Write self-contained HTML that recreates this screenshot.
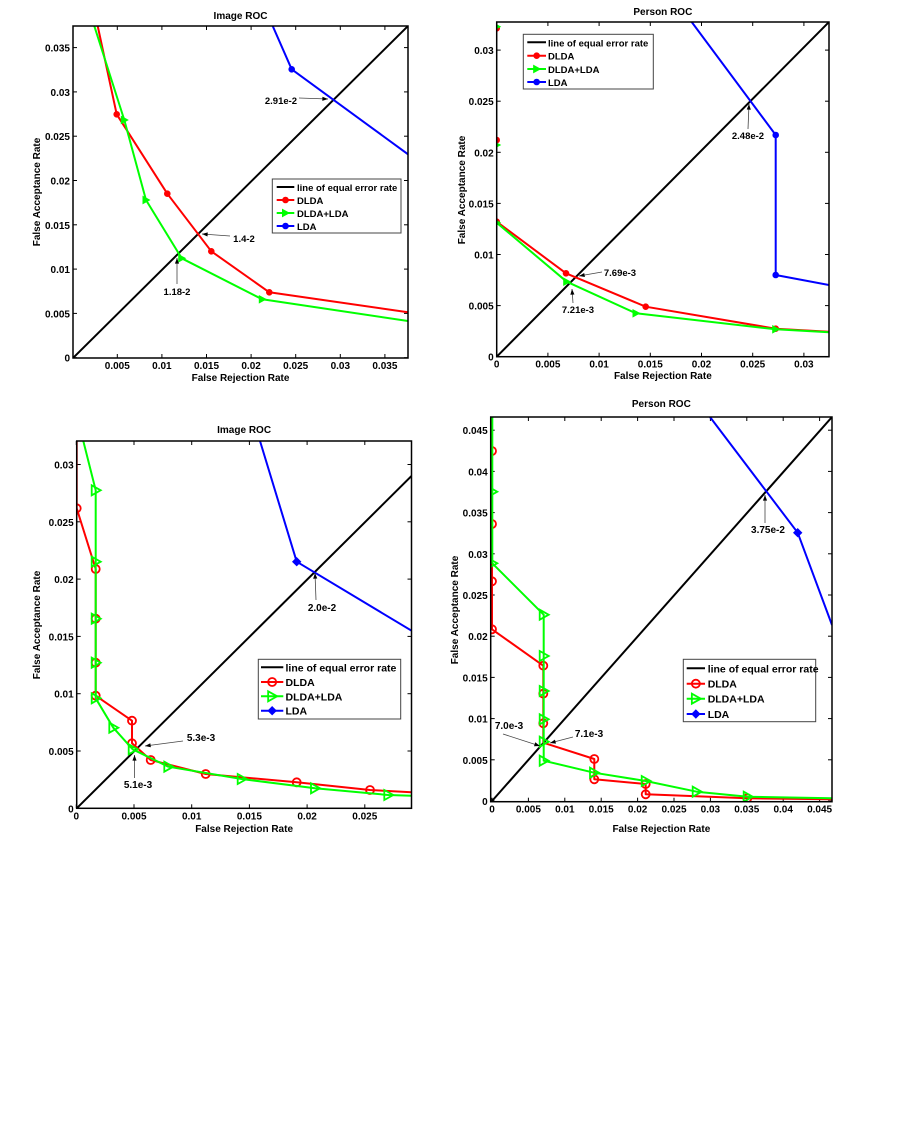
<!DOCTYPE html>
<html><head><meta charset="utf-8"><style>
body{margin:0;background:#fff;width:901px;height:1141px;overflow:hidden}
svg text{font-family:"Liberation Sans",Arial,sans-serif;font-weight:bold;fill:#000}
</style></head><body>
<svg id="s" width="901" height="1141" xmlns="http://www.w3.org/2000/svg"></svg>
<script>
const S=document.getElementById('s');let h='';
function pl(pts,c,w){h+=`<polyline points="${pts.map(p=>p.join(',')).join(' ')}" fill="none" stroke="${c}" stroke-width="${w||2}" stroke-linejoin="round"/>`;}
function t(x,y,s,o){o=o||{};h+=`<text x="${x}" y="${y}" font-size="${o.fs||10}" text-anchor="${o.a||'middle'}" ${o.r?`transform="rotate(-90 ${x} ${y})"`:''}>${s}</text>`;}
function mk(type,x,y,c,open){
 if(type=='o')h+=`<circle cx="${x}" cy="${y}" r="${open?4:2.8}" fill="${open?'none':c}" stroke="${c}" stroke-width="${open?1.8:1}"/>`;
 else if(type=='>'){const a=open?4:3,b=open?5:3.5;h+=`<polygon points="${x-a},${y-b} ${x+b},${y} ${x-a},${y+b}" fill="${open?'none':c}" stroke="${c}" stroke-width="${open?1.8:1}"/>`;}
 else if(type=='d')h+=`<polygon points="${x},${y-4} ${x+4},${y} ${x},${y+4} ${x-4},${y}" fill="${c}" stroke="${c}"/>`;}
function arrow(x1,y1,x2,y2){h+=`<line x1="${x1}" y1="${y1}" x2="${x2}" y2="${y2}" stroke="#444" stroke-width="0.8"/>`;
 const a=Math.atan2(y2-y1,x2-x1),L=6;h+=`<polygon points="${x2},${y2} ${x2-L*Math.cos(a-0.35)},${y2-L*Math.sin(a-0.35)} ${x2-L*Math.cos(a+0.35)},${y2-L*Math.sin(a+0.35)}" fill="#000"/>`;}
function axes(c){
 const [L,T,R,B]=c.box;
 h+=`<clipPath id="${c.id}"><rect x="${L}" y="${T}" width="${R-L}" height="${B-T}"/></clipPath>`;
 c.xt.forEach(([v,s])=>{const x=c.x0+v*c.xs;h+=`<line x1="${x}" y1="${B}" x2="${x}" y2="${B-4}" stroke="#000"/><line x1="${x}" y1="${T}" x2="${x}" y2="${T+4}" stroke="#000"/>`;t(x,B+11,s,{fs:c.fs});});
 c.yt.forEach(([v,s])=>{const y=c.y0-v*c.ys;h+=`<line x1="${L}" y1="${y}" x2="${L+4}" y2="${y}" stroke="#000"/><line x1="${R}" y1="${y}" x2="${R-4}" y2="${y}" stroke="#000"/>`;t(L-3,y+4,s,{fs:c.fs,a:'end'});});
 t((L+R)/2,c.ty,c.title,{fs:c.fs});t((L+R)/2,c.xly,'False Rejection Rate',{fs:c.fs});t(c.ylx,c.yly,'False Acceptance Rate',{fs:c.fs,r:1});
}
function frame(c){const [L,T,R,B]=c.box;h+=`<rect x="${L}" y="${T}" width="${R-L}" height="${B-T}" fill="none" stroke="#000" stroke-width="1.5"/>`;}
function legend(c,lg){const [x1,y1,x2,y2]=lg.box;h+=`<rect x="${x1}" y="${y1}" width="${x2-x1}" height="${y2-y1}" fill="#fff" stroke="#444"/>`;
 const it=[['line of equal error rate','#000',null],['DLDA','#f00','o'],['DLDA+LDA','#0f0','>'],['LDA','#00f',c.open?'d':'o']];
 it.forEach(([s,col,m],i)=>{const y=lg.rows[i];h+=`<line x1="${lg.l1}" y1="${y}" x2="${lg.l2}" y2="${y}" stroke="${col}" stroke-width="2"/>`;if(m)mk(m,(lg.l1+lg.l2)/2,y,col,c.open);t(lg.tx,y+4,s,{fs:lg.fs,a:'start'});});}
function series(c,S){h+=`<g clip-path="url(#${c.id})">`;S.forEach(s=>{pl(s.p,s.c);(s.m||[]).forEach(p=>mk(s.t,p[0],p[1],s.c,c.open));});h+='</g>';}

let c1={id:'c1',box:[73,26,408,358],x0:72.7,xs:44.6/0.005,y0:357.7,ys:44.3/0.005,fs:10,title:'Image ROC',ty:19,xly:381,ylx:40,yly:192,
 xt:[[0.005,'0.005'],[0.01,'0.01'],[0.015,'0.015'],[0.02,'0.02'],[0.025,'0.025'],[0.03,'0.03'],[0.035,'0.035']],
 yt:[[0,'0'],[0.005,'0.005'],[0.01,'0.01'],[0.015,'0.015'],[0.02,'0.02'],[0.025,'0.025'],[0.03,'0.03'],[0.035,'0.035']]};
axes(c1);
series(c1,[{p:[[73,358],[408,26]],c:'#000'},
 {p:[[272.7,26],[291.7,69.3],[408,154.3]],c:'#00f',t:'o',m:[[291.7,69.3]]},
 {p:[[97.7,26],[116.7,114.3],[167.3,193.7],[211.3,251.3],[269.3,292.3],[408,312.3]],c:'#f00',t:'o',m:[[116.7,114.3],[167.3,193.7],[211.3,251.3],[269.3,292.3]]},
 {p:[[94.3,26],[124.3,120],[146,200],[181.7,258.3],[262.3,299.3],[408,321]],c:'#0f0',t:'>',m:[[124.3,120],[146,200],[181.7,258.3],[262.3,299.3]]}]);
frame(c1);
legend(c1,{box:[272.3,179,401,233],rows:[187,200,213,226],l1:276.7,l2:294.3,tx:297,fs:9.5});
t(281,104,'2.91e-2',{fs:9.5});arrow(299,98,328,99);
t(244,242,'1.4-2',{fs:9.5});arrow(230,236,202,234);
t(177,295,'1.18-2',{fs:9.5});arrow(177,284,177,258);

let c2={id:'c2',box:[496.7,22,829,356.7],x0:496.7,xs:51.2/0.005,y0:356.7,ys:51.1/0.005,fs:10,title:'Person ROC',ty:15,xly:379,ylx:465,yly:190,
 xt:[[0,'0'],[0.005,'0.005'],[0.01,'0.01'],[0.015,'0.015'],[0.02,'0.02'],[0.025,'0.025'],[0.03,'0.03']],
 yt:[[0,'0'],[0.005,'0.005'],[0.01,'0.01'],[0.015,'0.015'],[0.02,'0.02'],[0.025,'0.025'],[0.03,'0.03']]};
axes(c2);
series(c2,[{p:[[496.7,356.7],[829,22]],c:'#000'},
 {p:[[691.7,22],[775.7,135],[775.7,275],[829,285]],c:'#00f',t:'o',m:[[775.7,135],[775.7,275]]},
 {p:[[496.7,221.7],[566,273.3],[645.7,306.7],[775.7,328.7],[829,331.7]],c:'#f00',t:'o',m:[[496.7,28.3],[496.7,140],[496.7,221.7],[566,273.3],[645.7,306.7],[775.7,328.7]]},
 {p:[[496.7,222.7],[566.7,281.7],[636,313.3],[775.7,329.3],[829,332.3]],c:'#0f0',t:'>',m:[[496.7,26.7],[496.7,145],[496.7,222.7],[566.7,281.7],[636,313.3],[775.7,329.3]]}]);
frame(c2);
legend(c2,{box:[523.3,34.3,653.3,89],rows:[42.3,55.7,69,82],l1:527.3,l2:546,tx:548,fs:9.5});
t(748,139,'2.48e-2',{fs:9.5});arrow(748,129,749,104);
t(620,276,'7.69e-3',{fs:9.5});arrow(602,272,579,276);
t(578,313,'7.21e-3',{fs:9.5});arrow(573,303,572,289);

let c3={id:'c3',box:[76.7,441,411.5,808.3],x0:76.3,xs:57.7/0.005,y0:808.3,ys:57.3/0.005,fs:10,title:'Image ROC',ty:433,xly:832,ylx:40,yly:625,
 xt:[[0,'0'],[0.005,'0.005'],[0.01,'0.01'],[0.015,'0.015'],[0.02,'0.02'],[0.025,'0.025']],
 yt:[[0,'0'],[0.005,'0.005'],[0.01,'0.01'],[0.015,'0.015'],[0.02,'0.02'],[0.025,'0.025'],[0.03,'0.03']],open:1};
axes(c3);
series(c3,[{p:[[76.7,808.3],[411.5,476]],c:'#000'},
 {p:[[260,441],[296.7,561.7],[411.5,630.7]],c:'#00f',t:'d',m:[[296.7,561.7]]},
 {p:[[76.7,441],[76.7,508.3],[95.7,569],[95.7,695.7],[132,720.7],[132,743.3],[150.7,760],[205.7,774],[296.7,782.3],[370,790],[411.5,792.3]],c:'#f00',t:'o',m:[[76.7,508.3],[95.7,569],[95.7,618.7],[95.7,662.7],[95.7,695.7],[132,720.7],[132,743.3],[150.7,760],[205.7,774],[296.7,782.3],[370,790]]},
 {p:[[83.3,441],[95.7,490.3],[95.7,698.3],[113.3,727.7],[132.7,749.3],[168.3,766.7],[241.7,779],[315,788.3],[388.3,795],[411.5,795.7]],c:'#0f0',t:'>',m:[[95.7,490.3],[95.7,561.7],[95.7,618.7],[95.7,662.7],[95.7,698.3],[113.3,727.7],[132.7,749.3],[168.3,766.7],[241.7,779],[315,788.3],[388.3,795]]}]);
frame(c3);
legend(c3,{box:[258.3,659.3,400.7,719],rows:[667.3,682,696.3,710.7],l1:261,l2:283.3,tx:285.5,fs:10.5});
t(322,611,'2.0e-2',{fs:10});arrow(316,600,315,573);
t(201,741,'5.3e-3',{fs:10});arrow(183,741,145,746);
t(138,788,'5.1e-3',{fs:10});arrow(134.5,778,134.5,755);

let c4={id:'c4',box:[490.7,417,832,801.7],x0:492,xs:36.4/0.005,y0:801,ys:41.2/0.005,fs:10,title:'Person ROC',ty:407,xly:832,ylx:458,yly:610,
 xt:[[0,'0'],[0.005,'0.005'],[0.01,'0.01'],[0.015,'0.015'],[0.02,'0.02'],[0.025,'0.025'],[0.03,'0.03'],[0.035,'0.035'],[0.04,'0.04'],[0.045,'0.045']],
 yt:[[0,'0'],[0.005,'0.005'],[0.01,'0.01'],[0.015,'0.015'],[0.02,'0.02'],[0.025,'0.025'],[0.03,'0.03'],[0.035,'0.035'],[0.04,'0.04'],[0.045,'0.045']],open:1};
axes(c4);
series(c4,[{p:[[492,801],[832,417]],c:'#000'},
 {p:[[710,417],[797.7,532.7],[832,625]],c:'#00f',t:'d',m:[[797.7,532.7]]},
 {p:[[492,417],[492,629.3],[543.3,665.7],[543.3,742.7],[594.3,759],[594.3,779.3],[645.7,784],[645.7,794.3],[747.3,798.3],[832,799.3]],c:'#f00',t:'o',m:[[492,451],[492,524],[492,581.3],[492,629.3],[543.3,665.7],[543.3,693.7],[543.3,723.3],[594.3,759],[594.3,779.3],[645.7,784],[645.7,794.3],[747.3,798.3]]},
 {p:[[492.3,417],[492.3,563.3],[543.7,614.7],[543.7,760.7],[594,772.7],[645.7,781],[696.7,791.7],[747.7,796.7],[832,798.3]],c:'#0f0',t:'>',m:[[492.3,491.7],[492.3,563.3],[543.7,614.7],[543.7,656],[543.7,691],[543.7,719.3],[543.7,741.7],[543.7,760.7],[594,772.7],[645.7,781],[696.7,791.7],[747.7,796.7]]}]);
frame(c4);
legend(c4,{box:[683.3,659.3,815.7,721.7],rows:[668.3,683.7,698.7,714],l1:686.7,l2:705,tx:707.7,fs:10.5});
t(768,533,'3.75e-2',{fs:10});arrow(765,523,765,495);
t(509,729,'7.0e-3',{fs:10});arrow(503,734,540,746);
t(589,737,'7.1e-3',{fs:10});arrow(573,737,550,743);
S.innerHTML=h;
</script>
</body></html>
